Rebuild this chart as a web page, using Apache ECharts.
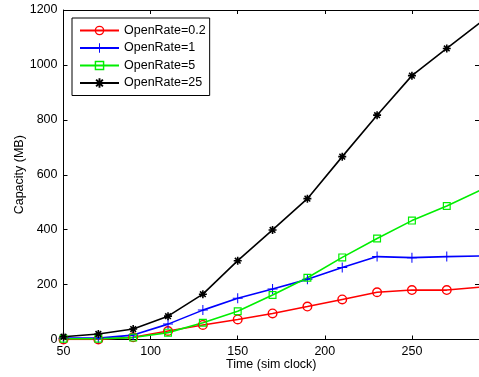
<!DOCTYPE html>
<html>
<head>
<meta charset="utf-8">
<script src="https://cdn.jsdelivr.net/npm/echarts@6/dist/echarts.min.js"></script>
<style>
html,body{margin:0;padding:0;background:#fff;}
#chart{width:479px;height:377px;}
</style>
</head>
<body>
<div id="chart"></div>
<script>
var times = [50, 70, 90, 110, 130, 150, 170, 190, 210, 230, 250, 270, 290];
var seriesNames = ['OpenRate=0.2', 'OpenRate=1', 'OpenRate=5', 'OpenRate=25'];
var rate02 = [0, 0, 8, 31, 53, 73, 95, 120, 146, 172, 180, 180, 191];
var rate1 = [5, 5, 16, 56, 107, 150, 184, 219, 262, 302, 298, 302, 304];
var rate5 = [3, 3, 7, 25, 61, 103, 162, 225, 299, 368, 433, 486, 546];
var rate25 = [10, 20, 38, 85, 165, 287, 399, 513, 666, 817, 961, 1060, 1158];
var xTicks = [50, 100, 150, 200, 250];
var yTicks = [0, 200, 400, 600, 800, 1000, 1200];

var FONT = '"Liberation Sans", Arial, Helvetica, sans-serif';
var ringCircle = 'path://M1,0A1,1,0,1,1,-1,0A1,1,0,1,1,1,0ZM0.72,0A0.72,0.72,0,1,0,-0.72,0A0.72,0.72,0,1,0,0.72,0Z';
var plusSym = 'path://M-0.1,-1H0.1V-0.1H1V0.1H0.1V1H-0.1V0.1H-1V-0.1H-0.1Z';
var ringSquare = 'path://M-1,-1H1V1H-1ZM-0.7,-0.7V0.7H0.7V-0.7Z';
var starSym = 'path://M-0.2,-1L0.2,-1L0.2,1L-0.2,1ZM-1,-0.2L1,-0.2L1,0.2L-1,0.2ZM-0.566,-0.849L0.849,0.566L0.566,0.849L-0.849,-0.566ZM-0.849,0.566L0.566,-0.849L0.849,-0.566L-0.566,0.849Z';

function pairs(vals){ return times.map(function(t,i){ return [t, vals[i]]; }); }

var defs = [
  {name: seriesNames[0], data: rate02, color: '#ff0000', symbol: ringCircle, size: 10},
  {name: seriesNames[1], data: rate1, color: '#0000ff', symbol: plusSym, size: 10},
  {name: seriesNames[2], data: rate5, color: '#00ee00', symbol: ringSquare, size: 8},
  {name: seriesNames[3], data: rate25, color: '#000000', symbol: starSym, size: 8}
];

var series = defs.map(function(d){
  return {
    name: d.name, type: 'line', data: pairs(d.data),
    symbol: d.symbol, symbolSize: d.size, showAllSymbol: true,
    lineStyle: {color: d.color, width: 1.6},
    itemStyle: {color: d.color},
    emphasis: {disabled: true},
    clip: true, animation: false, z: 3
  };
});

var chart = echarts.init(document.getElementById('chart'), null, {renderer: 'canvas'});
chart.setOption({
  backgroundColor: '#fff',
  animation: false,
  textStyle: {fontFamily: FONT},
  grid: {left: 63.5, right: 0, top: 10, bottom: 37.5, containLabel: false},
  legend: {
    orient: 'vertical', left: 72, top: 18,
    padding: [6, 4, 6, 7], itemGap: 4.5, itemWidth: 39, itemHeight: 12,
    borderColor: '#000', borderWidth: 1, backgroundColor: '#fff',
    textStyle: {fontFamily: FONT, fontSize: 12.5, color: '#000', lineHeight: 13},
    data: seriesNames
  },
  xAxis: [{
    type: 'value', min: 50, max: 288.5, interval: 50, position: 'bottom',
    name: 'Time (sim clock)', nameLocation: 'middle', nameGap: 19, nameMoveOverlap: false,
    nameTextStyle: {fontFamily: FONT, fontSize: 12.5, color: '#000'},
    axisLine: {show: true, onZero: false, lineStyle: {color: '#000', width: 1}},
    axisTick: {show: true, inside: true, length: 4, lineStyle: {color: '#000'}},
    axisLabel: {fontFamily: FONT, fontSize: 12.5, color: '#000', margin: 6, showMaxLabel: false,
      formatter: function(v){ return xTicks.indexOf(v) >= 0 ? String(v) : ''; }},
    splitLine: {show: false}
  }, {
    type: 'value', min: 50, max: 288.5, interval: 50, position: 'top',
    axisLine: {show: true, onZero: false, lineStyle: {color: '#000', width: 1}},
    axisTick: {show: true, inside: true, length: 4, lineStyle: {color: '#000'}},
    axisLabel: {show: false}, splitLine: {show: false}
  }],
  yAxis: [{
    type: 'value', min: 0, max: 1200, interval: 200, position: 'left',
    name: 'Capacity (MB)', nameLocation: 'middle', nameGap: 37, nameRotate: 90, nameMoveOverlap: false,
    nameTextStyle: {fontFamily: FONT, fontSize: 12.5, color: '#000'},
    axisLine: {show: true, onZero: false, lineStyle: {color: '#000', width: 1}},
    axisTick: {show: true, inside: true, length: 4, lineStyle: {color: '#000'}},
    axisLabel: {fontFamily: FONT, fontSize: 12.5, color: '#000', margin: 6,
      formatter: function(v){ return yTicks.indexOf(v) >= 0 ? String(v) : ''; }},
    splitLine: {show: false}
  }, {
    type: 'value', min: 0, max: 1200, interval: 200, position: 'right',
    axisLine: {show: true, onZero: false, lineStyle: {color: '#000', width: 1}},
    axisTick: {show: true, inside: true, length: 4, lineStyle: {color: '#000'}},
    axisLabel: {show: false}, splitLine: {show: false}
  }],
  series: series
});
</script>
</body>
</html>
